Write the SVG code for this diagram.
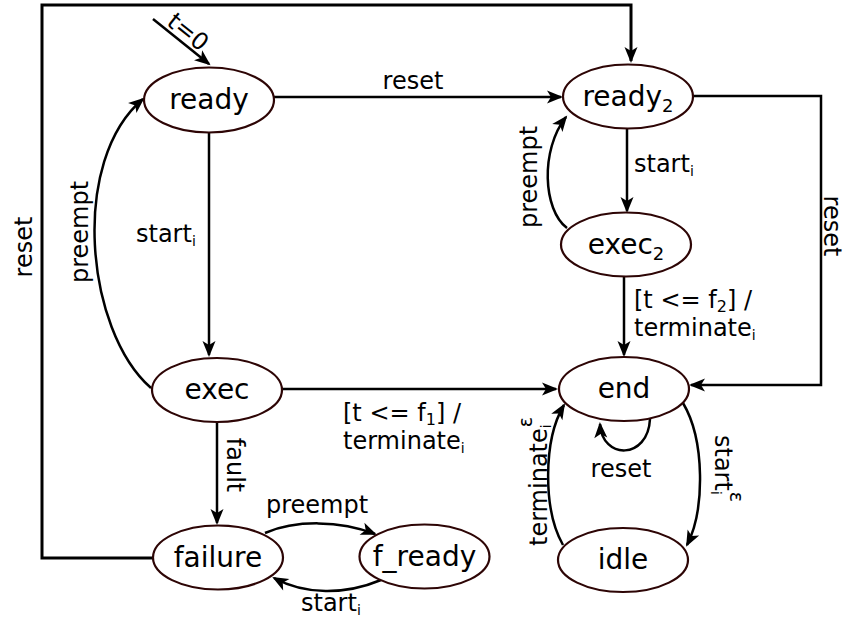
<svg xmlns="http://www.w3.org/2000/svg" width="846" height="619" viewBox="0 0 846 619">
<defs>
<marker id="arr" viewBox="-16 -8 20 16" markerWidth="20" markerHeight="16" refX="0" refY="0" orient="auto" markerUnits="userSpaceOnUse">
<path d="M2,0 L-14,-6.5 L-10,0 L-14,6.5 Z" fill="#000"/>
</marker>
<style>
.node ellipse{fill:#fff;stroke:#2d0505;stroke-width:2.2}
.node text{font-family:"DejaVu Sans",sans-serif;font-size:28px;text-anchor:middle;fill:#000}
.edge{fill:none;stroke:#000;stroke-width:2.5}
.edge.arr{marker-end:url(#arr)}
.lbl{font-family:"DejaVu Sans",sans-serif;font-size:24px;fill:#000}
.sub{font-size:14px}
.eps{font-size:19px}
.nsub{font-size:18px}
.lsub{font-size:16px}
</style>
</defs>
<rect width="846" height="619" fill="#fff"/>
<g id="connectors">
<path class="edge arr" style="stroke-width:3" d="M153,558 L42,558 L42,5 L631,5 L631,61"/>
<path class="edge arr" d="M153,19 L209,64"/>
<path class="edge arr" d="M274,97 L561,97"/>
<path class="edge arr" d="M209,133 L209,355"/>
<path class="edge arr" d="M151,388 C85,330 70,160 143,99"/>
<path class="edge arr" d="M282,389 L556,389"/>
<path class="edge arr" d="M217,422 L217,523"/>
<path class="edge arr" d="M265,533 C295,520 340,520 375,534"/>
<path class="edge arr" d="M381,580 C345,595 305,595 274,578"/>
<path class="edge arr" d="M627,128 L627,211"/>
<path class="edge arr" d="M567,228 C543,210 540,150 566,117"/>
<path class="edge arr" d="M624,276 L624,355"/>
<path class="edge arr" d="M693,96 L821,96 L821,385 L691,385"/>
<path class="edge arr" d="M650,419 C648,460 602,460 600,424"/>
<path class="edge arr" d="M683,403 C705,440 705,510 687,545"/>
<path class="edge arr" d="M563,545 C543,510 543,440 564,405"/>
<text class="lbl" transform="translate(188,32) rotate(39)" y="8" text-anchor="middle">t=0</text>
<text class="lbl" x="413" y="89" text-anchor="middle">reset</text>
<text class="lbl" x="136" y="242">start<tspan class="sub" dy="4">i</tspan></text>
<text class="lbl" transform="translate(88,232) rotate(-90)" text-anchor="middle">preempt</text>
<text class="lbl" transform="translate(32,247) rotate(-90)" text-anchor="middle">reset</text>
<text class="lbl" x="343" y="421">[t &lt;= f<tspan class="lsub" dy="4">1</tspan><tspan dy="-4">] /</tspan></text>
<text class="lbl" x="343" y="449">terminate<tspan class="sub" dy="4">i</tspan></text>
<text class="lbl" transform="translate(227,465) rotate(90)" text-anchor="middle">fault</text>
<text class="lbl" x="317" y="513" text-anchor="middle">preempt</text>
<text class="lbl" x="301" y="611">start<tspan class="sub" dy="4">i</tspan></text>
<text class="lbl" x="634" y="172">start<tspan class="sub" dy="4">i</tspan></text>
<text class="lbl" transform="translate(537,177) rotate(-90)" text-anchor="middle">preempt</text>
<text class="lbl" x="634" y="308">[t &lt;= f<tspan class="lsub" dy="4">2</tspan><tspan dy="-4">] /</tspan></text>
<text class="lbl" x="634" y="336">terminate<tspan class="sub" dy="4">i</tspan></text>
<text class="lbl" transform="translate(824,226) rotate(90)" text-anchor="middle">reset</text>
<text class="lbl" x="621" y="477" text-anchor="middle">reset</text>
<text class="lbl" transform="translate(547,546) rotate(-90)">terminate<tspan class="sub" dy="4">i</tspan><tspan class="eps" dx="-3" dy="-19">ε</tspan></text>
<text class="lbl" transform="translate(715,435) rotate(90)">start<tspan class="sub" dy="4">i</tspan><tspan class="eps" dx="-3" dy="-19">ε</tspan></text>
</g>
<g id="ready" class="node"><ellipse cx="209" cy="100" rx="65" ry="32.5"/><text x="209" y="109">ready</text></g>
<g id="ready2" class="node"><ellipse cx="628" cy="96.5" rx="65" ry="32"/><text x="628" y="106">ready<tspan class="nsub" dy="6">2</tspan></text></g>
<g id="exec2" class="node"><ellipse cx="626" cy="244.5" rx="65" ry="32"/><text x="626" y="254">exec<tspan class="nsub" dy="6">2</tspan></text></g>
<g id="end" class="node"><ellipse cx="624" cy="389" rx="65" ry="32"/><text x="624" y="398">end</text></g>
<g id="idle" class="node"><ellipse cx="623" cy="560" rx="65" ry="32"/><text x="623" y="569">idle</text></g>
<g id="exec" class="node"><ellipse cx="217" cy="390" rx="65" ry="32"/><text x="217" y="399">exec</text></g>
<g id="failure" class="node"><ellipse cx="218" cy="557.5" rx="65" ry="32"/><text x="218" y="567">failure</text></g>
<g id="f_ready" class="node"><ellipse cx="424.5" cy="556.5" rx="65" ry="32"/><text x="424.5" y="566">f_ready</text></g>
</svg>
